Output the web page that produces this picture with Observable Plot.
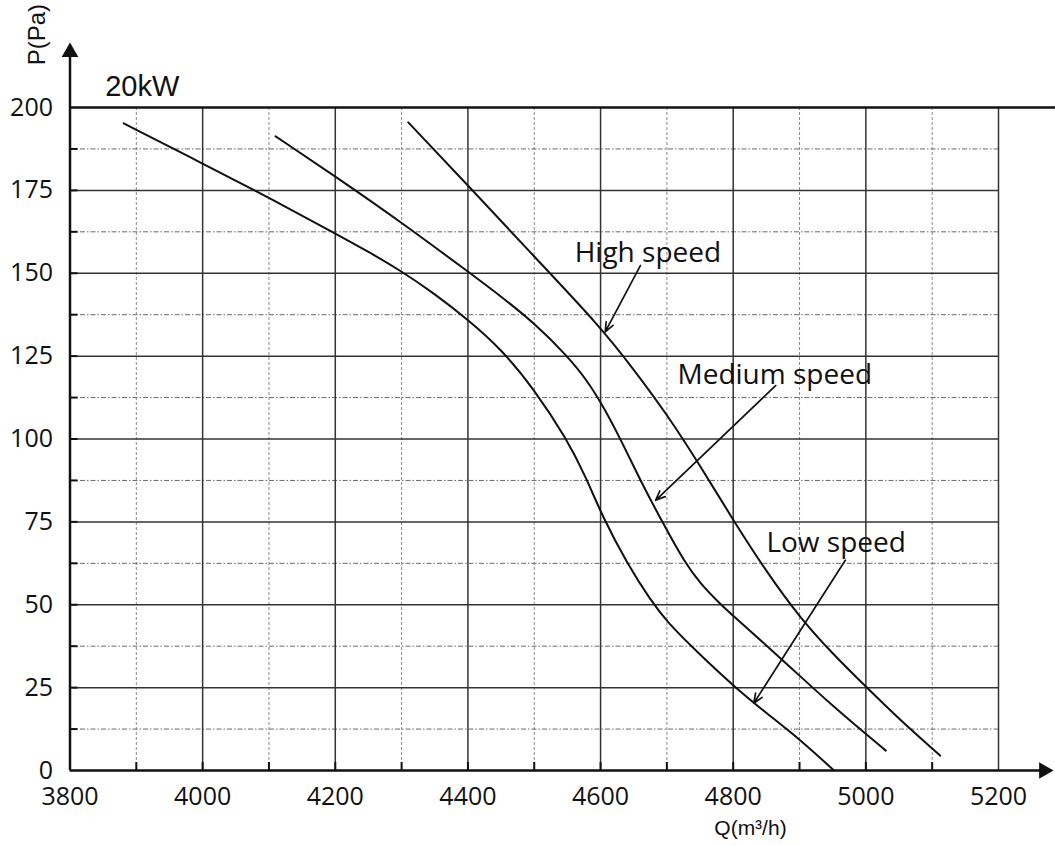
<!DOCTYPE html>
<html><head><meta charset="utf-8">
<script src="https://cdn.jsdelivr.net/npm/d3@7"></script>
<script src="https://cdn.jsdelivr.net/npm/@observablehq/plot@0.6"></script>
<style>html,body{margin:0;padding:0;background:#fff;overflow:hidden} #chart svg{display:block}</style>
</head><body><div id="chart"></div>
<script>
// ---- axis ticks & grid ----
const qTicks = [3800, 4000, 4200, 4400, 4600, 4800, 5000, 5200];
const pTicks = [0, 25, 50, 75, 100, 125, 150, 175, 200];
const qMajorGrid = [4000, 4200, 4400, 4600, 4800, 5000, 5200];
const qMinorGrid = [3900, 4100, 4300, 4500, 4700, 4900, 5100];
const pMajorGrid = [25, 50, 75, 100, 125, 150, 175];
const pMinorGrid = [12.5, 37.5, 62.5, 87.5, 112.5, 137.5, 162.5, 187.5];
const qTickMarks = [3900, 4000, 4100, 4200, 4300, 4400, 4500, 4600, 4700, 4800, 4900, 5000, 5100];
const pTickMarks = [12.5, 25, 37.5, 50, 62.5, 75, 87.5, 100, 112.5, 125, 137.5, 150, 162.5, 175, 187.5];

// ---- series (Q in m³/h, P in Pa) ----
const lowQ = [3881, 4000, 4100, 4200, 4250, 4300, 4350, 4400, 4450, 4500, 4549, 4578, 4603, 4640, 4675, 4700, 4751, 4801, 4850, 4900, 4952];
const lowP = [195.2, 183.1, 172.8, 162.0, 156.5, 150.6, 143.8, 136.0, 127.2, 115.0, 100.0, 88.5, 76.5, 62.5, 51.5, 44.8, 34.7, 25.4, 17.3, 9.5, 0];
const mediumQ = [4110, 4200, 4300, 4400, 4450, 4500, 4550, 4580, 4605, 4630, 4660, 4693, 4726, 4751, 4780, 4800, 4850, 4900, 4950, 5000, 5030];
const mediumP = [191.3, 179.2, 165.3, 150.5, 143.0, 135.0, 125.0, 117.6, 109.5, 100.0, 87.5, 75.0, 63.0, 56.2, 50.3, 46.6, 37.8, 28.6, 19.5, 11.0, 6.0];
const highQ = [4310, 4400, 4500, 4600, 4650, 4700, 4750, 4800, 4850, 4900, 4950, 5000, 5050, 5112];
const highP = [195.5, 176.5, 155.0, 133.8, 121.0, 107.5, 92.0, 75.5, 60.0, 46.2, 35.2, 25.3, 15.5, 4.5];

// ---- annotations ----
const calloutLabels = ["High speed", "Medium speed", "Low speed"];
const calloutQ = [4561, 4716, 4850];
const calloutP = [153.4, 116.5, 65.9];
const arrowFromQ = [4660, 4864, 4969];
const arrowFromP = [152.3, 116.1, 63.4];
const arrowToQ = [4607, 4683, 4831];
const arrowToP = [132.3, 81.5, 20.3];
const titleText = "20kW";
const yLabel = "P(Pa)";
const xLabel = "Q(m³/h)";

const series = [
  {name: "Low speed", Q: lowQ, P: lowP},
  {name: "Medium speed", Q: mediumQ, P: mediumP},
  {name: "High speed", Q: highQ, P: highP}
];
const curveRows = series.flatMap(s => s.Q.map((q, i) => ({series: s.name, q, p: s.P[i]})));
const callouts = calloutLabels.map((t, i) => ({t, q: calloutQ[i], p: calloutP[i]}));
const arrows = calloutLabels.map((t, i) => ({x1: arrowFromQ[i], y1: arrowFromP[i], x2: arrowToQ[i], y2: arrowToP[i]}));

const chart = Plot.plot({
  width: 1055,
  height: 846,
  marginLeft: 69.5,
  marginRight: 57,
  marginTop: 107,
  marginBottom: 76,
  x: {domain: [3800, 5200]},
  y: {domain: [0, 200]},
  style: {fontFamily: "'Open Sans', sans-serif", fontSize: "25px", color: "#111", background: "#fff", overflow: "visible"},
  marks: [
    // minor (dashed) grid
    Plot.ruleX(qMinorGrid, {y1: 0, y2: 200, stroke: "#8a8a8a", strokeWidth: 1, strokeDasharray: "3,2"}),
    Plot.ruleY(pMinorGrid, {x1: 3800, x2: 5200, stroke: "#6a6a6a", strokeWidth: 1, strokeDasharray: "5,2,1.5,2"}),
    // major (solid) grid
    Plot.ruleX(qMajorGrid, {y1: 0, y2: 200, stroke: "#333", strokeWidth: 1.5}),
    Plot.ruleY(pMajorGrid, {x1: 3800, x2: 5200, stroke: "#333", strokeWidth: 1.5}),
    // inward tick marks
    Plot.ruleX(qTickMarks, {y1: 0, y2: 0, insetTop: -8, stroke: "#111", strokeWidth: 2}),
    Plot.ruleY(pTickMarks, {x1: 3800, x2: 3800, insetRight: -8, stroke: "#111", strokeWidth: 2}),
    // top border & axes with arrows
    Plot.ruleY([200], {x1: 3800, x2: 5286, stroke: "#111", strokeWidth: 2.5}),
    Plot.ruleY([0], {x1: 3800, x2: 5275, stroke: "#111", strokeWidth: 2.5}),
    Plot.ruleX([3800], {y1: 0, y2: 216, stroke: "#111", strokeWidth: 2.5}),
    Plot.dot([{q: 3800, p: 219.6}], {x: "q", y: "p", symbol: "triangle", r: 6.2, fill: "#111", stroke: null, dy: 9.6}),
    Plot.dot([{q: 5283, p: 0}], {x: "q", y: "p", symbol: "triangle", r: 6.2, fill: "#111", stroke: null, rotate: 90, dx: -9.6}),
    // axes labels
    Plot.axisX({ticks: qTicks, tickSize: 0, tickPadding: 17, tickFormat: d => `${d}`, label: null, fill: "#111"}),
    Plot.axisY({ticks: pTicks, tickSize: 0, tickPadding: 17, tickFormat: d => `${d}`, label: null, fill: "#111"}),
    // curves
    Plot.line(curveRows, {x: "q", y: "p", z: "series", curve: "basis", stroke: "#111", strokeWidth: 2}),
    // callout arrows & labels
    Plot.arrow(arrows, {x1: "x1", y1: "y1", x2: "x2", y2: "y2", stroke: "#111", strokeWidth: 1.7, headLength: 9, headAngle: 45}),
    Plot.text(callouts, {x: "q", y: "p", text: "t", textAnchor: "start", lineAnchor: "bottom", fontSize: 28, fontFamily: "'Open Sans', sans-serif", fill: "#111"}),
    // title & axis titles
    Plot.text([titleText], {x: 3853, y: 203.6, text: d => d, textAnchor: "start", lineAnchor: "bottom", fontSize: 29, fontFamily: "'Liberation Sans', Arial, sans-serif", fill: "#111"}),
    Plot.text([yLabel], {x: 3763, y: 222, text: d => d, rotate: -90, textAnchor: "middle", lineAnchor: "bottom", fontSize: 24, fontFamily: "'Liberation Sans', Arial, sans-serif", fill: "#111"}),
    Plot.text([xLabel], {x: 4826, y: -19.6, text: d => d, textAnchor: "middle", lineAnchor: "bottom", fontSize: 21, fontFamily: "'Liberation Sans', Arial, sans-serif", fill: "#111"})
  ]
});
document.getElementById("chart").appendChild(chart);
</script>
</body></html>
